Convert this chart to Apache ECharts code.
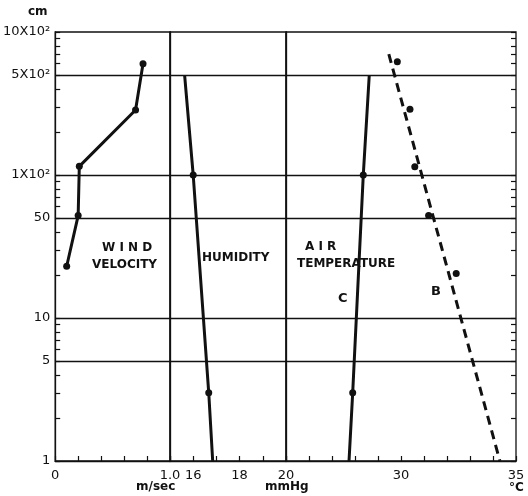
<!DOCTYPE html>
<html>
<head>
<meta charset="utf-8">
<script src="https://cdn.jsdelivr.net/npm/echarts@6/dist/echarts.min.js"></script>
<style>
  html, body { margin: 0; background: #fff; }
  #main { width: 528px; height: 496px; }
</style>
</head>
<body>
<div id="main"></div>
<script>
// height above ground (cm), log scale
const gridHeights = [5, 10, 50, 100, 500];
const yLabelValues = [1, 5, 10, 50, 100, 500, 1000];
const yLabelTexts = ['1', '5', '10', '50', '1X10²', '5X10²', '10X10²'];
const yMinorTicks = [1, 2, 3, 4, 5, 6, 7, 8, 9, 10, 20, 30, 40, 50, 60, 70, 80, 90,
  100, 200, 300, 400, 500, 600, 700, 800, 900, 1000];

// wind velocity, m/sec
const windSpeed = [0.10, 0.20, 0.21, 0.70, 0.765];
const windHeight = [23, 52, 115, 285, 600];

// humidity, mmHg
const humidity = [15.63, 16.0, 16.67, 16.84];
const humidityHeight = [500, 100, 3, 1];
const humidityDot = [false, true, true, false];

// air temperature C, deg C
const tempC = [28.62, 28.36, 27.9, 27.74];
const tempCHeight = [500, 100, 3, 1];
const tempCDot = [false, true, true, false];

// air temperature B: dashed fit line + measured points
const tempBLine = [29.47, 34.3];
const tempBLineHeight = [700, 1];
const tempB = [29.84, 30.39, 30.6, 31.2, 32.4];
const tempBHeight = [620, 288, 114, 52, 20.5];

// x tick labels
const windLabels = { 0: '0', 1: '1.0' };
const humidityLabels = { 16: '16', 18: '18', 20: '20' };
const tempLabels = { 30: '30', 35: '35' };

const INK = '#111';
const FONT = 'DejaVu Sans';

function items(xs, ys, dots) {
  return xs.map((x, i) => ({
    value: [x, ys[i]],
    symbol: dots && !dots[i] ? 'none' : 'circle'
  }));
}

function gridMarks() {
  return {
    silent: true,
    symbol: 'none',
    label: { show: false },
    lineStyle: { color: INK, width: 1.3, type: 'solid' },
    data: gridHeights.map(h => ({ yAxis: h }))
  };
}

function logAxis(gridIndex) {
  return {
    type: 'log', logBase: 10, min: 1, max: 1000, gridIndex,
    axisLine: { show: true, lineStyle: { color: INK, width: 1.3 } },
    axisTick: { show: false }, axisLabel: { show: false }, splitLine: { show: false }
  };
}

function xAxis(gridIndex, min, max, interval, labels) {
  return {
    type: 'value', gridIndex, min, max, interval,
    axisLine: { show: true, lineStyle: { color: INK, width: 1.3 } },
    axisTick: { show: true, inside: true, length: 5, lineStyle: { color: INK, width: 1.2 } },
    splitLine: { show: false },
    axisLabel: {
      show: true, margin: 8, color: INK, fontFamily: FONT, fontSize: 13,
      showMinLabel: true, showMaxLabel: true,
      formatter: v => labels[Math.round(v * 10) / 10] || ''
    }
  };
}

const logTicks = yMinorTicks.map(v => Math.log10(v));
const annot = '600 12px "DejaVu Sans"';

const chart = echarts.init(document.getElementById('main'));
chart.setOption({
  animation: false,
  backgroundColor: '#fff',
  textStyle: { fontFamily: FONT },
  grid: [
    { left: 55, top: 32, width: 115, height: 429, show: true, borderColor: INK, borderWidth: 1.3 },
    { left: 170, top: 32, width: 116, height: 429, show: true, borderColor: INK, borderWidth: 1.3 },
    { left: 286, top: 32, width: 230, height: 429, show: true, borderColor: INK, borderWidth: 1.3 }
  ],
  xAxis: [
    xAxis(0, 0, 1, 0.2, windLabels),
    xAxis(1, 15, 20, 1, humidityLabels),
    xAxis(2, 25, 35, 1, tempLabels)
  ],
  yAxis: [
    logAxis(0), logAxis(1), logAxis(2),
    {
      type: 'value', gridIndex: 0, min: 0, max: 3, position: 'left',
      axisLine: { show: false },
      splitLine: { show: false },
      axisTick: { show: true, inside: true, length: 5, customValues: logTicks,
        lineStyle: { color: INK, width: 1.2 } },
      axisLabel: {
        show: true, margin: 5, color: INK, fontFamily: FONT, fontSize: 13,
        customValues: yLabelValues.map(v => Math.log10(v)),
        formatter: v => {
          const i = yLabelValues.findIndex(t => Math.abs(Math.log10(t) - v) < 1e-6);
          return i >= 0 ? yLabelTexts[i] : '';
        }
      }
    },
    {
      type: 'value', gridIndex: 2, min: 0, max: 3, position: 'right',
      axisLine: { show: false },
      splitLine: { show: false },
      axisTick: { show: true, inside: true, length: 5, customValues: logTicks,
        lineStyle: { color: INK, width: 1.2 } },
      axisLabel: { show: false }
    }
  ],
  series: [
    {
      name: 'Wind velocity', type: 'line', xAxisIndex: 0, yAxisIndex: 0,
      data: items(windSpeed, windHeight),
      symbol: 'circle', symbolSize: 7,
      itemStyle: { color: INK },
      lineStyle: { color: INK, width: 3 },
      markLine: gridMarks()
    },
    {
      name: 'Humidity', type: 'line', xAxisIndex: 1, yAxisIndex: 1,
      data: items(humidity, humidityHeight, humidityDot),
      symbolSize: 7,
      itemStyle: { color: INK },
      lineStyle: { color: INK, width: 3 },
      markLine: gridMarks()
    },
    {
      name: 'Air temperature C', type: 'line', xAxisIndex: 2, yAxisIndex: 2,
      data: items(tempC, tempCHeight, tempCDot),
      symbolSize: 7,
      itemStyle: { color: INK },
      lineStyle: { color: INK, width: 3 },
      markLine: gridMarks()
    },
    {
      name: 'Air temperature B line', type: 'line', xAxisIndex: 2, yAxisIndex: 2,
      data: items(tempBLine, tempBLineHeight, [false, false]),
      symbol: 'none',
      lineStyle: { color: INK, width: 3, type: [9, 6] }
    },
    {
      name: 'Air temperature B', type: 'scatter', xAxisIndex: 2, yAxisIndex: 2,
      data: items(tempB, tempBHeight),
      symbol: 'circle', symbolSize: 7,
      itemStyle: { color: INK, opacity: 1 }
    }
  ],
  graphic: [
    { type: 'text', left: 28, top: 6, style: { text: 'cm', fill: INK, font: annot } },
    { type: 'text', left: 102, top: 242, style: { text: 'W I N D', fill: INK, font: annot } },
    { type: 'text', left: 92, top: 259, style: { text: 'VELOCITY', fill: INK, font: annot } },
    { type: 'text', left: 202, top: 252, style: { text: 'HUMIDITY', fill: INK, font: annot } },
    { type: 'text', left: 305, top: 241, style: { text: 'A I R', fill: INK, font: annot } },
    { type: 'text', left: 297, top: 258, style: { text: 'TEMPERATURE', fill: INK, font: annot } },
    { type: 'text', left: 338, top: 292, style: { text: 'C', fill: INK, font: '600 13px "DejaVu Sans"' } },
    { type: 'text', left: 431, top: 285, style: { text: 'B', fill: INK, font: '600 13px "DejaVu Sans"' } },
    { type: 'text', left: 136, top: 481, style: { text: 'm/sec', fill: INK, font: annot } },
    { type: 'text', left: 265, top: 481, style: { text: 'mmHg', fill: INK, font: annot } },
    { type: 'text', left: 509, top: 482, style: { text: '°C', fill: INK, font: annot } }
  ]
});
</script>
</body>
</html>
